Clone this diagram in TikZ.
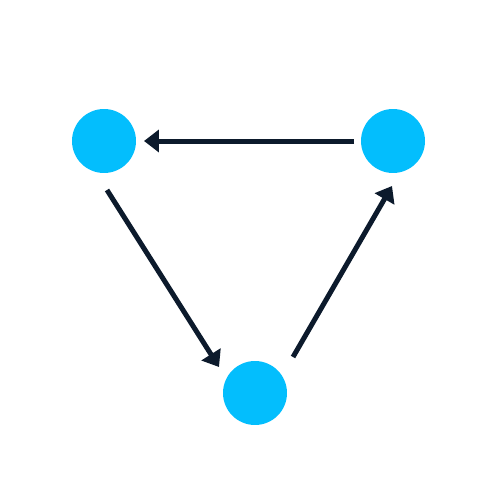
\documentclass[tikz,border=0pt]{standalone}
\usetikzlibrary{arrows.meta,calc}
\definecolor{dot}{HTML}{03BEFD}
\definecolor{ink}{HTML}{0C1A2C}
\begin{document}
\begin{tikzpicture}[x=0.02cm,y=-0.02cm,
  dotnode/.style={circle,fill=dot,minimum size=1.28cm,inner sep=0pt,outer sep=0pt},
  arr/.style={draw=ink,line width=0.1cm,-{Triangle[length=0.3cm,width=0.44cm]}}]
\fill[white] (0,0) rectangle (500,500);
\node[dotnode] (a) at (104,141) {};
\node[dotnode] (b) at (393,141) {};
\node[dotnode] (c) at (255,393) {};
\coordinate (aout) at ($(a)+(3,49)$);
\coordinate (cin) at ($(c)+(-36,-26)$);
\coordinate (cout) at ($(c)+(38,-36)$);
\coordinate (bin) at ($(b)+(-1,45)$);
\draw[arr,shorten <=0.14cm,shorten >=0.16cm] (b) -- (a);
\draw[arr] (aout) -- (cin);
\draw[arr] (cout) -- (bin);
\end{tikzpicture}
\end{document}
